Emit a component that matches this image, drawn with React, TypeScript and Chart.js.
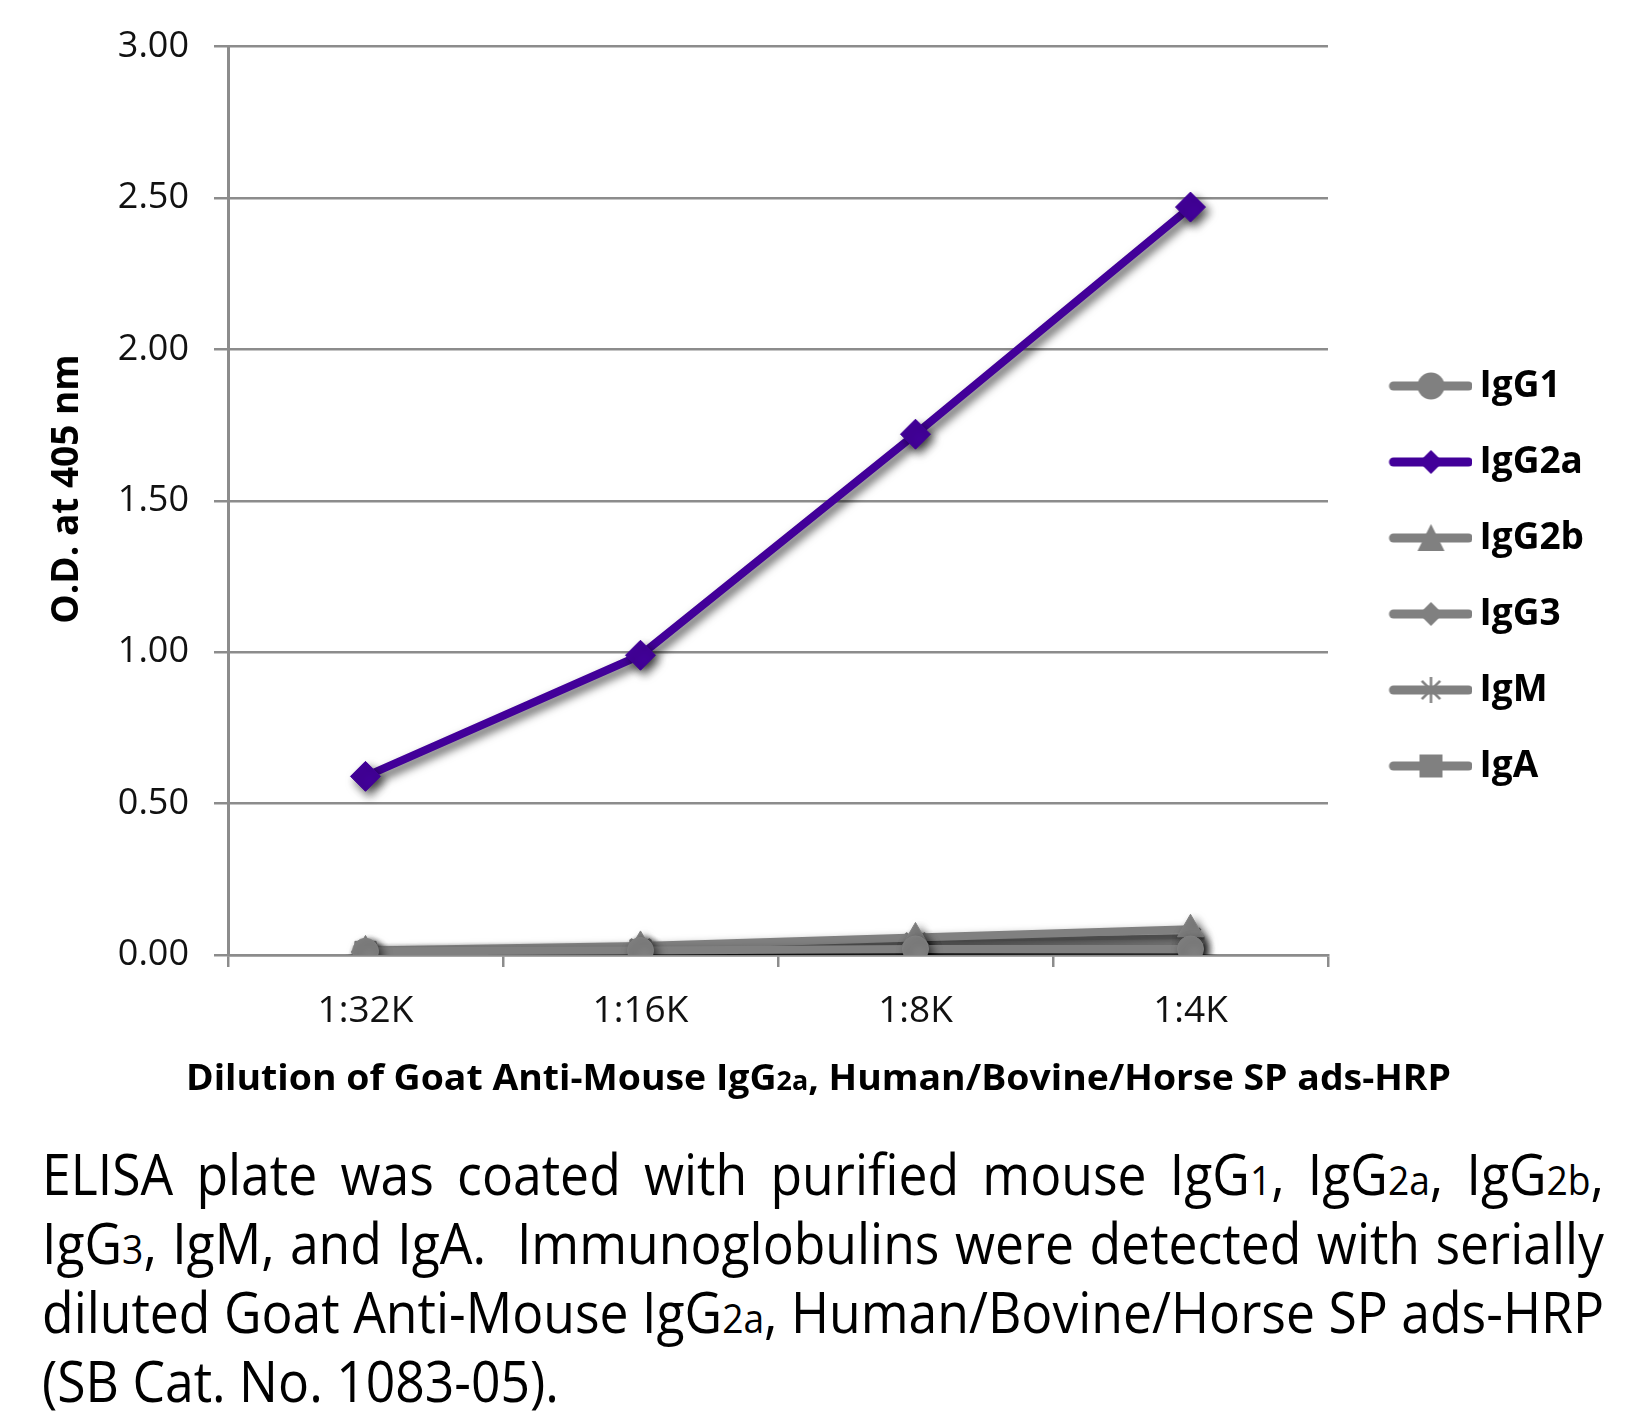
import React, { useEffect, useRef } from 'react';
import { Chart, registerables } from 'chart.js';

Chart.register(...registerables);

// ---- data ----
const categories = ['1:32K', '1:16K', '1:8K', '1:4K'];
const seriesNames = ['IgG1', 'IgG2a', 'IgG2b', 'IgG3', 'IgM', 'IgA'];
const igG1 = [0.012, 0.015, 0.02, 0.02];
const igG2a = [0.59, 0.99, 1.72, 2.47];
const igG2b = [0.015, 0.03, 0.058, 0.085];
const igG3 = [0.01, 0.02, 0.03, 0.04];
const igM = [0.01, 0.02, 0.04, 0.055];
const igA = [0.01, 0.015, 0.02, 0.025];
const yTickValues = [0, 0.5, 1, 1.5, 2, 2.5, 3];

const yAxisTitle = 'O.D. at 405 nm';
const xAxisTitleParts = ['Dilution of Goat Anti-Mouse IgG', '2a', ', Human/Bovine/Horse SP ads-HRP'];

// ---- styles ----
const PURPLE = '#420099';
const GRAY = '#808080';
const GRID = '#8c8c8c';
const FONT = '"Open Sans", "DejaVu Sans", sans-serif';

const seriesValues = [igG1, igG2a, igG2b, igG3, igM, igA];
const seriesColors = [GRAY, PURPLE, GRAY, GRAY, GRAY, GRAY];
const seriesStyles = ['circle', 'rectRot', 'triangle', 'rectRot', 'star', 'rect'];
const seriesRadius = [13, 15, 15, 14, 14, 15];

const LEGEND_FONT = 37;
const LEGEND_PAD = 39;
const LEGEND_BOX = 94;
const ICON_W = LEGEND_BOX + 23;
const ICON_H = 40;
const ICON_LINE_START = LEGEND_BOX - 60;

function makeIcon(style: string, color: string): HTMLCanvasElement {
  const c = document.createElement('canvas');
  c.width = ICON_W;
  c.height = ICON_H;
  const ctx = c.getContext('2d')!;
  const cy = ICON_H / 2;
  ctx.strokeStyle = color;
  ctx.fillStyle = color;
  ctx.lineCap = 'round';
  ctx.lineWidth = 9;
  ctx.beginPath();
  ctx.moveTo(ICON_LINE_START + 4, cy);
  ctx.lineTo(ICON_W - 4, cy);
  ctx.stroke();
  const cx = (ICON_LINE_START + ICON_W) / 2;
  ctx.beginPath();
  if (style === 'circle') {
    ctx.arc(cx, cy, 13.5, 0, Math.PI * 2);
    ctx.fill();
  } else if (style === 'rectRot') {
    const r = 12;
    ctx.moveTo(cx - r, cy);
    ctx.lineTo(cx, cy - r);
    ctx.lineTo(cx + r, cy);
    ctx.lineTo(cx, cy + r);
    ctx.closePath();
    ctx.fill();
  } else if (style === 'triangle') {
    ctx.moveTo(cx, cy - 14);
    ctx.lineTo(cx + 13.5, cy + 13);
    ctx.lineTo(cx - 13.5, cy + 13);
    ctx.closePath();
    ctx.fill();
  } else if (style === 'rect') {
    ctx.rect(cx - 11.5, cy - 11.5, 23, 23);
    ctx.fill();
  } else if (style === 'star') {
    ctx.lineWidth = 2.5;
    ctx.lineCap = 'butt';
    const r = 13;
    for (let k = 0; k < 4; k++) {
      const a = (k * Math.PI) / 4;
      ctx.moveTo(cx - Math.cos(a) * r, cy - Math.sin(a) * r);
      ctx.lineTo(cx + Math.cos(a) * r, cy + Math.sin(a) * r);
    }
    ctx.stroke();
  }
  return c;
}

const shadowPlugin = {
  id: 'lineShadow',
  beforeDatasetsDraw(chart: any) {
    const ctx = chart.ctx;
    ctx.save();
    ctx.shadowColor = 'rgba(0,0,0,0.65)';
    ctx.shadowBlur = 10;
    ctx.shadowOffsetX = 4;
    ctx.shadowOffsetY = 5;
  },
  afterDatasetsDraw(chart: any) {
    chart.ctx.restore();
  },
};

export default function App() {
  const canvasRef = useRef<HTMLCanvasElement | null>(null);
  const captionRef = useRef<HTMLDivElement | null>(null);
  const xTitleRef = useRef<HTMLDivElement | null>(null);

  useEffect(() => {
    if (!canvasRef.current) return;
    const icons = seriesNames.map((_, i) => makeIcon(seriesStyles[i], seriesColors[i]));
    const chart = new Chart(canvasRef.current, {
      type: 'line',
      data: {
        labels: categories,
        datasets: seriesNames.map((name, i) => ({
          label: name,
          data: seriesValues[i],
          borderColor: seriesColors[i],
          backgroundColor: seriesColors[i],
          borderWidth: 8,
          pointStyle: seriesStyles[i] as any,
          pointRadius: seriesRadius[i],
          pointHoverRadius: seriesRadius[i],
          pointBorderWidth: seriesStyles[i] === 'star' ? 3 : 1,
          pointBorderColor: seriesColors[i],
          pointBackgroundColor: seriesColors[i],
          tension: 0,
          fill: false,
          order: i === 1 ? 0 : 1,
        })),
      },
      options: {
        animation: false,
        responsive: true,
        maintainAspectRatio: false,
        layout: { padding: { top: 46, right: 42, bottom: 0, left: 0 } },
        plugins: {
          tooltip: { enabled: false },
          legend: {
            position: 'right',
            align: 'center',
            labels: {
              usePointStyle: true,
              pointStyleWidth: LEGEND_BOX,
              padding: LEGEND_PAD,
              color: '#000',
              font: { family: FONT, weight: 'bold', size: LEGEND_FONT },
              generateLabels: (ch: any) =>
                ch.data.datasets.map((ds: any, i: number) => ({
                  text: ds.label,
                  pointStyle: icons[i],
                  fillStyle: seriesColors[i],
                  strokeStyle: seriesColors[i],
                  lineWidth: 0,
                  hidden: false,
                  datasetIndex: i,
                })),
            },
          },
        },
        scales: {
          x: {
            type: 'category',
            offset: true,
            afterFit: (s: any) => {
              s.height = 151;
            },
            grid: {
              offset: true,
              drawOnChartArea: false,
              drawTicks: true,
              tickLength: 12,
              tickWidth: 2.5,
              tickColor: GRID,
              color: GRID,
              lineWidth: 2.5,
            },
            border: { display: true, color: GRID, width: 2.5 },
            ticks: {
              color: '#111',
              padding: 22,
              font: { family: FONT, size: 37 },
              maxRotation: 0,
            },
          },
          y: {
            min: 0,
            max: 3,
            afterFit: (s: any) => {
              s.width = 228;
            },
            afterBuildTicks: (s: any) => {
              s.ticks = yTickValues.map((v) => ({ value: v }));
            },
            grid: {
              color: GRID,
              lineWidth: 2.5,
              drawTicks: true,
              tickLength: 14,
              tickColor: GRID,
            },
            border: { display: true, color: GRID, width: 3 },
            ticks: {
              color: '#111',
              padding: 25,
              font: { family: FONT, size: 36 },
              callback: (v: any) => Number(v).toFixed(2),
            },
          },
        },
      },
      plugins: [shadowPlugin],
    });

    // fit the HTML text blocks horizontally (the reference uses a narrower face)
    const fit = (el: HTMLElement | null, target: number, allowGrow: boolean) => {
      if (!el) return;
      const lines = Array.from(el.querySelectorAll('.measure')) as HTMLElement[];
      let maxW = 0;
      lines.forEach((l) => {
        maxW = Math.max(maxW, l.getBoundingClientRect().width);
      });
      let k = target / maxW;
      if (!allowGrow) k = Math.min(1, k);
      el.style.transform = `scaleX(${k})`;
      el.style.width = `${target / k}px`;
    };
    fit(captionRef.current, 1562, false);
    fit(xTitleRef.current, 1265, true);

    return () => chart.destroy();
  }, []);

  const sub = (t: string) => <span style={{ fontSize: '0.72em', lineHeight: 0 }}>{t}</span>;

  const captionLine: React.CSSProperties = {
    textAlign: 'justify',
    textAlignLast: 'justify' as any,
    whiteSpace: 'nowrap',
    height: 69,
  };

  return (
    <div style={{ position: 'absolute', left: 0, top: 0, width: 1636, height: 1419, background: '#fff', overflow: 'hidden' }}>
      <div style={{ position: 'absolute', left: 0, top: 0, width: 1636, height: 1106 }}>
        <canvas ref={canvasRef} />
      </div>
      <div
        style={{
          position: 'absolute',
          left: 64.3 - 200,
          top: 489 - 25,
          width: 400,
          height: 50,
          lineHeight: '50px',
          transform: 'rotate(-90deg)',
          transformOrigin: '50% 50%',
          fontFamily: FONT,
          fontWeight: 700,
          fontSize: 37,
          color: '#000',
          textAlign: 'center',
          whiteSpace: 'nowrap',
        }}
      >
        {yAxisTitle}
      </div>
      <div
        ref={xTitleRef}
        style={{
          position: 'absolute',
          left: 818 - 1265 / 2,
          top: 1054,
          width: 1265,
          transformOrigin: '0 0',
          fontFamily: FONT,
          fontWeight: 700,
          fontSize: 36,
          lineHeight: '46px',
          color: '#000',
          textAlign: 'center',
          whiteSpace: 'nowrap',
        }}
      >
        <span className="measure">
          {xAxisTitleParts[0]}
          {sub(xAxisTitleParts[1])}
          {xAxisTitleParts[2]}
        </span>
      </div>
      <div
        ref={captionRef}
        style={{
          position: 'absolute',
          left: 42,
          top: 1139,
          width: 1562,
          transformOrigin: '0 0',
          fontFamily: FONT,
          fontSize: 56,
          lineHeight: '69px',
          color: '#000',
        }}
      >
        <div style={captionLine}>
          <span className="measure">
            ELISA plate was coated with purified mouse IgG{sub('1')}, IgG{sub('2a')}, IgG{sub('2b')},
          </span>
        </div>
        <div style={captionLine}>
          <span className="measure">
            IgG{sub('3')}, IgM, and IgA.&nbsp; Immunoglobulins were detected with serially
          </span>
        </div>
        <div style={captionLine}>
          <span className="measure">
            diluted Goat Anti-Mouse IgG{sub('2a')}, Human/Bovine/Horse SP ads-HRP
          </span>
        </div>
        <div style={{ whiteSpace: 'nowrap', height: 69 }}>(SB Cat. No. 1083-05).</div>
      </div>
    </div>
  );
}
